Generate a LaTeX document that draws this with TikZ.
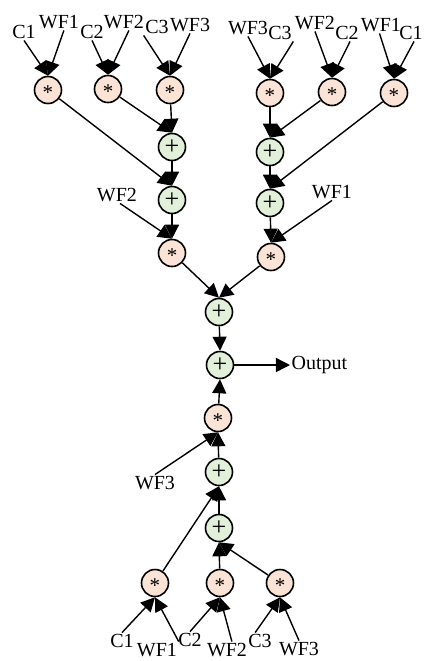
\documentclass[tikz,border=0pt]{standalone}
\usepackage{fontspec}
\setmainfont{Liberation Serif}
\usetikzlibrary{arrows.meta}
\definecolor{mulfill}{HTML}{FBE4D5}
\definecolor{addfill}{HTML}{E2EFD9}
\newcommand{\mulsign}{\raisebox{-1.9pt}{*}}
\begin{document}
\begin{tikzpicture}[x=0.5pt,y=-0.5pt,line width=0.7pt,
  font=\fontsize{10}{12}\selectfont,
  >={Triangle[length=7pt,width=7pt]},
  op/.style={circle,draw,line width=0.8pt,minimum size=13.5pt,inner sep=0pt},
  mul/.style={op,fill=mulfill,text height=6pt,text depth=0pt,font=\fontsize{10.5}{12}\selectfont},
  add/.style={op,fill=addfill,text height=7.6pt,text depth=0.4pt,font=\fontsize{13}{14}\selectfont},
  lbl/.style={inner sep=0.5pt}]
\useasboundingbox (0,0) rectangle (424,661);
\node[mul] (m1) at (48,90) {\mulsign};
\node[mul] (m2) at (108,89) {\mulsign};
\node[mul] (m3) at (170,90) {\mulsign};
\node[mul] (m4) at (270,93) {\mulsign};
\node[mul] (m5) at (332,92) {\mulsign};
\node[mul] (m6) at (394,93) {\mulsign};
\node[add] (a1) at (172,147) {+};
\node[add] (a2) at (172,200) {+};
\node[mul] (ml) at (172,253) {\mulsign};
\node[add] (a3) at (270,152) {+};
\node[add] (a4) at (270,203) {+};
\node[mul] (mr) at (271,257) {\mulsign};
\node[add] (s1) at (219,312) {+};
\node[add] (s2) at (220,365) {+};
\node[mul] (mc) at (218,418) {\mulsign};
\node[add] (s3) at (219,472) {+};
\node[add] (s4) at (219,528) {+};
\node[mul] (b1) at (155,583) {\mulsign};
\node[mul] (b2) at (220,583) {\mulsign};
\node[mul] (b3) at (280,583) {\mulsign};
\node[lbl] (c1t) at (24,32) {C1};
\node[lbl] (wf1t) at (59,22) {WF1};
\node[lbl] (c2t) at (92,32) {C2};
\node[lbl] (wf2t) at (124,22) {WF2};
\node[lbl] (c3t) at (157,27) {C3};
\node[lbl] (wf3t) at (190,25) {WF3};
\node[lbl] (wf3r) at (248,28) {WF3};
\node[lbl] (c3r) at (280,33) {C3};
\node[lbl] (wf2r) at (315,23) {WF2};
\node[lbl] (c2r) at (347,33) {C2};
\node[lbl] (wf1r) at (381,25) {WF1};
\node[lbl] (c1r) at (411,33) {C1};
\node[lbl] (wf2m) at (117,195) {WF2};
\node[lbl] (wf1m) at (332,192) {WF1};
\node[lbl] (wf3m) at (155,483) {WF3};
\node[lbl,anchor=west] (out) at (290,365) {Output};
\node[lbl] (c1b) at (122,641) {C1};
\node[lbl] (wf1b) at (157,650) {WF1};
\node[lbl] (c2b) at (190,640) {C2};
\node[lbl] (wf2b) at (227,650) {WF2};
\node[lbl] (c3b) at (260,641) {C3};
\node[lbl] (wf3b) at (299,649) {WF3};
\draw[->] (c1t.south) -- (m1.north);
\draw[->] (wf1t.-60) -- (m1.north);
\draw[->] (c2t.south) -- (m2.north);
\draw[->] (wf2t.-60) -- (m2.north);
\draw[->] (c3t.south west) -- (m3.north);
\draw[->] (wf3t.south) -- (m3.north);
\draw[->] (wf3r.south) -- (m4.north);
\draw[->] (c3r.south east) -- (m4.north);
\draw[->] (wf2r.south) -- (m5.north);
\draw[->] (c2r.-70) -- (m5.north);
\draw[->] (wf1r.-100) -- (m6.north);
\draw[->] (c1r.-70) -- (m6.north);
\draw[->] (m1) -- (a2.north);
\draw[->] (m2) -- (a1.north);
\draw[->] (m3) -- (a1.north);
\draw[->] (a1) -- (a2.north);
\draw[->] (a2) -- (ml.north);
\draw[->] (wf2m.-70) -- (ml.north);
\draw[->] (m4) -- (a3.north);
\draw[->] (m5) -- (a3.north);
\draw[->] (m6) -- (a4.north);
\draw[->] (a3) -- (a4.north);
\draw[->] (a4) -- (mr.north);
\draw[->] (wf1m.south) -- (mr.north);
\draw[->] (ml) -- (s1.north);
\draw[->] (mr) -- (s1.north);
\draw[->] (s1) -- (s2.north);
\draw[->] (s2) -- (out);
\draw[->] (mc) -- (s2.south);
\draw[->] (s3) -- (mc.south);
\draw[->] (wf3m.north) -- (mc.south);
\draw[->] (s4) -- (s3.south);
\draw[->] (b1) -- (s3.south);
\draw[->] (b2) -- (s4.south);
\draw[->] (b3) -- (s4.south);
\draw[->] (c1b.north) -- (b1.south);
\draw[->] (wf1b.north east) -- (b1.south);
\draw[->] (c2b.north) -- (b2.south);
\draw[->] (wf2b.60) -- (b2.south);
\draw[->] (c3b.120) -- (b3.south);
\draw[->] (wf3b.north) -- (b3.south);
\end{tikzpicture}
\end{document}
